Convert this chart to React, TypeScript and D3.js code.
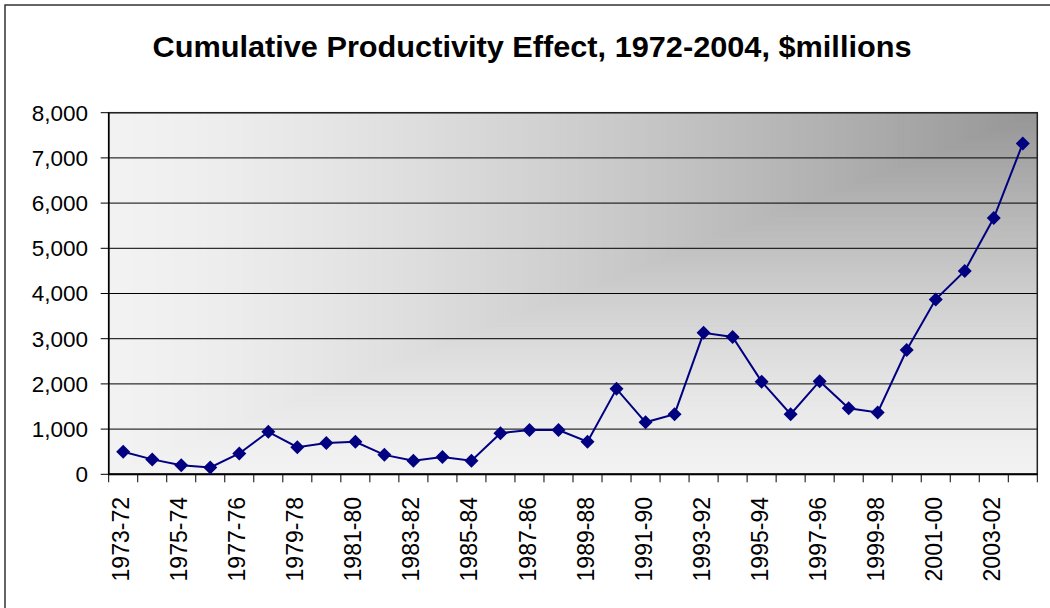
import React from 'react';
import * as d3 from 'd3';

// categories: fiscal pairs, first one is labelled oddly in the source
const categories: string[] = [
  '1973-72', '1974-73', '1975-74', '1976-75', '1977-76', '1978-77', '1979-78', '1980-79',
  '1981-80', '1982-81', '1983-82', '1984-83', '1985-84', '1986-85', '1987-86', '1988-87',
  '1989-88', '1990-89', '1991-90', '1992-91', '1993-92', '1994-93', '1995-94', '1996-95',
  '1997-96', '1998-97', '1999-98', '2000-99', '2001-00', '2002-01', '2003-02', '2004-03'
];

// cumulative productivity effect, $millions
const values: number[] = [
  500, 330, 200, 150, 460, 940, 600, 690,
  720, 430, 300, 380, 300, 910, 980, 980,
  720, 1890, 1150, 1330, 3130, 3040, 2050, 1330,
  2060, 1460, 1370, 2750, 3870, 4500, 5670, 7320
];

const yTicks: number[] = [0, 1000, 2000, 3000, 4000, 5000, 6000, 7000, 8000];

const WIDTH = 1050;
const HEIGHT = 608;
const plot = { left: 108.7, right: 1037.3, top: 112.7, bottom: 474.3 };
const FONT = '"Liberation Sans", Arial, sans-serif';

export default function App() {
  const x = d3
    .scaleBand<string>()
    .domain(categories)
    .range([plot.left, plot.right])
    .padding(0);

  const y = d3.scaleLinear().domain([0, 8000]).range([plot.bottom, plot.top]);

  const cx = (c: string) => (x(c) || 0) + x.bandwidth() / 2;

  const line = d3
    .line<number>()
    .x((_, i) => cx(categories[i]))
    .y(d => y(d));

  const fmt = d3.format(',');

  // Excel style "from corner" gradient: nested rects anchored top-right
  const steps = d3.range(0, 160);
  const shade = d3.interpolateRgb('#f2f2f2', '#959595');
  const pw = plot.right - plot.left;
  const ph = plot.bottom - plot.top;

  return (
    <svg
      width={WIDTH}
      height={HEIGHT}
      style={{ position: 'absolute', left: 0, top: 0, background: '#fff' }}
    >
      {/* outer chart border */}
      <rect x={5} y={5} width={1060} height={620} fill="#fff" stroke="#333" strokeWidth={1.5} />

      <text
        x={532}
        y={57}
        textAnchor="middle"
        fontFamily={FONT}
        fontWeight="bold"
        fontSize={30}
        textLength={759}
        lengthAdjust="spacingAndGlyphs"
        fill="#000"
      >
        Cumulative Productivity Effect, 1972-2004, $millions
      </text>

      {/* plot background */}
      <g>
        {steps.map(i => {
          const t = i / steps.length;
          return (
            <rect
              key={i}
              x={plot.left + t * pw}
              y={plot.top}
              width={pw * (1 - t) + 0.5}
              height={ph * (1 - t)}
              fill={shade(Math.pow(t, 1.35))}
            />
          );
        })}
      </g>

      {/* gridlines */}
      <g>
        {yTicks.slice(1).map(t => (
          <line key={t} x1={plot.left} x2={plot.right} y1={y(t)} y2={y(t)} stroke="#000" strokeWidth={1} />
        ))}
      </g>

      {/* plot frame */}
      <rect
        x={plot.left}
        y={plot.top}
        width={pw}
        height={ph}
        fill="none"
        stroke="#222"
        strokeWidth={1.5}
      />

      {/* y axis */}
      <g>
        <line x1={plot.left} x2={plot.left} y1={plot.top} y2={plot.bottom} stroke="#000" strokeWidth={1.5} />
        {yTicks.map(t => (
          <g key={t}>
            <line x1={plot.left - 8} x2={plot.left} y1={y(t)} y2={y(t)} stroke="#000" strokeWidth={1} />
            <text
              x={88}
              y={y(t)}
              dy="0.35em"
              textAnchor="end"
              fontFamily={FONT}
              fontSize={22.5}
              fill="#000"
            >
              {fmt(t)}
            </text>
          </g>
        ))}
      </g>

      {/* x axis */}
      <g>
        <line x1={plot.left} x2={plot.right} y1={plot.bottom} y2={plot.bottom} stroke="#000" strokeWidth={2} />
        {categories.concat(['__end']).map((c, i) => {
          const tx = i < categories.length ? x(c) || 0 : plot.right;
          return (
            <line key={c} x1={tx} x2={tx} y1={plot.bottom} y2={plot.bottom + 8} stroke="#000" strokeWidth={1} />
          );
        })}
        {categories.map((c, i) =>
          i % 2 === 0 ? (
            <text
              key={c}
              transform={`translate(${cx(c) - 2},497) rotate(-90)`}
              dy="0.35em"
              textAnchor="end"
              fontFamily={FONT}
              fontSize={23}
              fill="#000"
            >
              {c}
            </text>
          ) : null
        )}
      </g>

      {/* series */}
      <path d={line(values) || ''} fill="none" stroke="#000080" strokeWidth={2} />
      {values.map((v, i) => {
        const px = cx(categories[i]);
        const py = y(v);
        const r = 7;
        return (
          <path
            key={i}
            d={`M${px},${py - r}L${px + r},${py}L${px},${py + r}L${px - r},${py}Z`}
            fill="#000080"
          />
        );
      })}
    </svg>
  );
}
